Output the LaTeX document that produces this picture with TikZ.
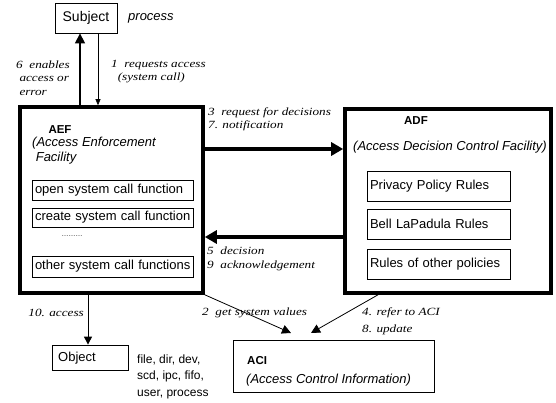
\documentclass[tikz,border=0pt]{standalone}
\usepackage{fontspec}
\setmainfont{Liberation Sans}
\newfontfamily\lblfont{Liberation Serif}[FakeStretch=1.2]
\usetikzlibrary{arrows.meta}

\begin{document}
\begin{tikzpicture}[x=1pt,y=-1pt,
  sans/.style={font=\fontsize{13}{15}\selectfont},
  box/.style={draw, line width=0.8pt, inner sep=0pt, sans},
  rulebox/.style={draw, line width=0.8pt, inner ysep=0pt, inner xsep=2.5pt,
    text width=#1, align=left, sans},
  facility/.style={draw, line width=3.6pt, inner sep=0pt},
  txt/.style={inner sep=0pt, align=left, sans},
  title/.style={inner sep=0pt, font=\fontsize{11.5}{13}\selectfont\bfseries},
  lbl/.style={inner sep=0pt, align=left,
    font=\lblfont\itshape\fontsize{11}{13.5}\selectfont},
  heavy/.style={line width=3.6pt, -{Triangle[length=12pt,width=13pt]}},
  thin/.style={line width=0.6pt, -{Triangle[length=6pt,width=5pt]}},
  medium/.style={line width=1pt, -{Triangle[length=8pt,width=8pt]}},
]
\useasboundingbox (0,0) rectangle (556,403);

% subject
\node[box, minimum width=62pt, minimum height=30pt, font=\fontsize{14}{16}\selectfont]
  (subj) at (86,18) {Subject};
\node[txt, anchor=west, font=\fontsize{13}{15}\selectfont\itshape] (proc) at (128,18) {process};

% enforcement facility
\node[facility, minimum width=183pt, minimum height=186pt] (aef) at (111.5,200) {};
\node[title] (aeft) at (60,130) {AEF};
\node[txt, anchor=west, font=\fontsize{13}{15}\selectfont\itshape] (aefl) at (32,151)
  {(Access Enforcement\\\ Facility};
\node[rulebox=156pt, minimum height=20pt] (open) at (113,190) {open system call function};
\node[rulebox=156pt, minimum height=19pt] (create) at (113,217.5) {create system call function};
\node[txt, font=\fontsize{7}{8}\selectfont] (dots) at (72,236) {\dots\dots\dots};
\node[rulebox=156pt, minimum height=21pt] (other) at (113,266.5) {other system call functions};

% decision facility
\node[facility, minimum width=206pt, minimum height=184pt] (adf) at (448,201) {};
\node[title] (adft) at (416,121) {ADF};
\node[txt, font=\fontsize{13}{15}\selectfont\itshape] (adfl) at (450,147)
  {(Access Decision Control Facility)};
\node[rulebox=138pt, minimum height=30pt] (priv) at (439,186) {Privacy Policy Rules};
\node[rulebox=138pt, minimum height=30pt] (blp) at (439,224) {Bell LaPadula Rules};
\node[rulebox=138pt, minimum height=30pt] (rop) at (439,264) {Rules of other policies};

% object
\node[box, minimum width=76pt, minimum height=25pt] (obj) at (90,357.5) {};
\node[txt, anchor=west] (objt) at (58,358) {Object};
\node[txt, anchor=west, font=\fontsize{12}{16.5}\selectfont] (objl) at (137,376.5)
  {file, dir, dev,\\scd, ipc, fifo,\\user, process};

% access control information
\node[box, minimum width=201pt, minimum height=52pt] (aci) at (333.5,366) {};
\node[title, anchor=west] (acit) at (247,361) {ACI};
\node[txt, anchor=west, font=\fontsize{13}{15}\selectfont\itshape] (acil) at (246,380)
  {(Access Control Information)};

% connectors
\draw[line width=1.3pt, -{Triangle[length=10pt,width=10pt]}]
  (aef.north -| 80,0) -- (subj.south -| 80,0);
\draw[thin] (subj.south -| 98,0) -- (aef.north -| 98,0);
\draw[heavy] (aef.east |- 0,149) -- (adf.west |- 0,149);
\draw[heavy] (adf.west |- 0,237) -- (aef.east |- 0,237);
\draw[medium] (aef.south -| 88,0) -- (obj.north -| 88,0);
\coordinate (tip2) at (291,333);
\coordinate (tip4) at (311,333);
\draw[line width=0.8pt, -{Triangle[length=9pt,width=9pt]}] (aef.south east) -- (tip2);
\draw[line width=0.8pt, -{Triangle[length=9pt,width=9pt]}] (adf.south -| 378,0) -- (tip4);

% connector labels
\node[lbl, anchor=west] (l6) at (16,78) {6 \ enables\\\ access or\\\ error};
\node[lbl, anchor=west] (l1) at (111,71.5) {1 \ requests access\\\ \ (system call)};
\node[lbl, anchor=west] (l3) at (208,119.5) {3 \ request for decisions\\7. notification};
\node[lbl, anchor=west] (l5) at (207,259) {5 \ decision\\9 \ acknowledgement};
\node[lbl, anchor=east] (l10) at (84,313) {10. access};
\node[lbl, anchor=west] (l2) at (202,313) {2 \ get system values};
\node[lbl, anchor=west, font=\lblfont\itshape\fontsize{11}{17}\selectfont] (l4) at (362,321)
  {4. refer to ACI\\8. update};
\end{tikzpicture}
\end{document}
